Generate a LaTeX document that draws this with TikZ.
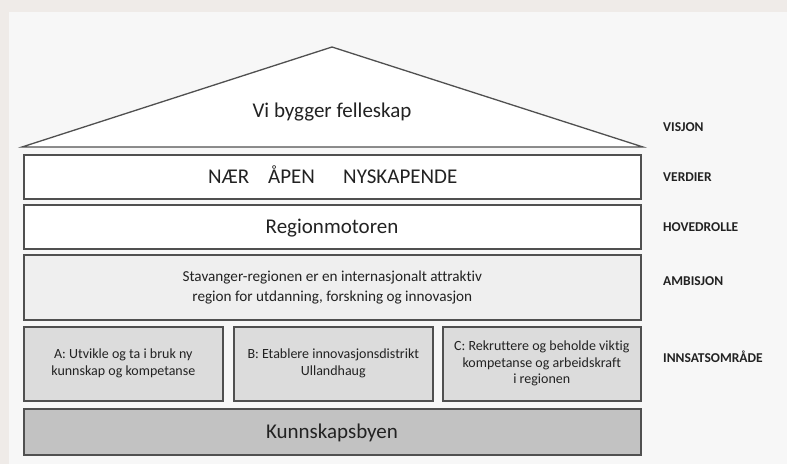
\documentclass[tikz,border=0pt]{standalone}
\usepackage{fontspec}
\setmainfont{Carlito}[Ligatures=NoCommon]
\definecolor{outerbg}{HTML}{EFEBE8}
\definecolor{panelbg}{HTML}{F7F7F7}
\definecolor{edge}{HTML}{505050}
\definecolor{ambfill}{HTML}{EFEFEF}
\definecolor{innfill}{HTML}{DCDCDC}
\definecolor{basefill}{HTML}{C2C2C2}
\definecolor{txt}{HTML}{222222}
\tikzset{
  layer/.style={draw=edge, line width=1.6pt, inner sep=0pt, anchor=north west, text=txt, align=center},
  bigtext/.style={text=txt, font=\fontsize{21}{24}\selectfont, inner sep=0pt},
  sidelabel/.style={anchor=west, font=\fontsize{13.5}{15}\selectfont\bfseries, text=txt, inner sep=0pt},
}
\begin{document}
\begin{tikzpicture}[x=1pt,y=-1pt]
\useasboundingbox (0,0) rectangle (787,464);
\fill[outerbg] (0,0) rectangle (787,464);
\fill[panelbg] (9,12) rectangle (787,464);
% roof
\draw[edge, fill=white, line width=1.3pt, line join=miter] (22,147) -- (332,47) -- (643,147) -- cycle;
\node[bigtext, anchor=base] (roof) at (332,117) {Vi bygger felleskap};
% layers
\node[layer, fill=white, minimum width=617pt, minimum height=44pt] (verdier) at (23,154) {};
\node[bigtext, anchor=base west] (naer) at (208,183) {NÆR};
\node[bigtext, anchor=base west] (apen) at (268,183) {ÅPEN};
\node[bigtext, anchor=base west] (nysk) at (343,183) {NYSKAPENDE};
\node[layer, fill=white, minimum width=617pt, minimum height=44pt] (hoved) at (23,204) {};
\node[bigtext, anchor=base] (hovedtxt) at (332,233) {Regionmotoren};
\node[layer, fill=ambfill, minimum width=617pt, minimum height=65pt, font=\fontsize{15.2}{20}\selectfont] (amb) at (23,254) {Stavanger-regionen er en internasjonalt attraktiv\\region for utdanning, forskning og innovasjon};
\node[layer, fill=innfill, minimum width=199pt, minimum height=74pt, font=\fontsize{14}{17}\selectfont] (a) at (23,326) {A: Utvikle og ta i bruk ny\\kunnskap og kompetanse};
\node[layer, fill=innfill, minimum width=199pt, minimum height=74pt, font=\fontsize{14}{17}\selectfont] (b) at (233,326) {B: Etablere innovasjonsdistrikt\\Ullandhaug};
\node[layer, fill=innfill, minimum width=198pt, minimum height=74pt, font=\fontsize{14}{16.5}\selectfont] (c) at (442,326) {C: Rekruttere og beholde viktig\\kompetanse og arbeidskraft\\i regionen};
\node[layer, fill=basefill, minimum width=617pt, minimum height=46pt] (base) at (23,408) {};
\node[bigtext, anchor=base] (basetxt) at (332,438) {Kunnskapsbyen};
% side labels
\node[sidelabel] (l1) at (663,127) {VISJON};
\node[sidelabel] (l2) at (663,177) {VERDIER};
\node[sidelabel] (l3) at (663,227) {HOVEDROLLE};
\node[sidelabel] (l4) at (663,281) {AMBISJON};
\node[sidelabel] (l5) at (663,357) {INNSATSOMRÅDE};
\end{tikzpicture}
\end{document}
